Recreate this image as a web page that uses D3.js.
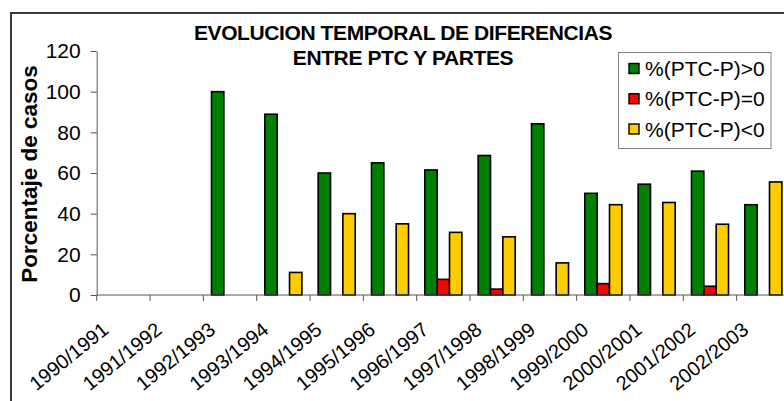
<!DOCTYPE html>
<html>
<head>
<meta charset="utf-8">
<script src="https://cdn.jsdelivr.net/npm/d3@7"></script>
<style>
  html, body { margin: 0; padding: 0; background: #fff; }
  svg { display: block; font-family: "Liberation Sans", Arial, sans-serif; }
</style>
</head>
<body>
<svg id="chart" width="784" height="401"></svg>
<script>
// ---- data ----
const categories = ["1990/1991","1991/1992","1992/1993","1993/1994","1994/1995","1995/1996","1996/1997","1997/1998","1998/1999","1999/2000","2000/2001","2001/2002","2002/2003"];
const seriesNames = ["%(PTC-P)>0", "%(PTC-P)=0", "%(PTC-P)<0"];
const greaterValues = [0, 0, 100, 88.9, 60, 65, 61.5, 68.6, 84.2, 50, 54.5, 60.9, 44.4];
const equalValues   = [0, 0, 0, 0, 0, 0, 7.7, 2.9, 0, 5.6, 0, 4.3, 0];
const lessValues    = [0, 0, 0, 11.1, 40, 35, 30.8, 28.6, 15.8, 44.4, 45.5, 34.8, 55.6];
const yTicks = [0, 20, 40, 60, 80, 100, 120];
const titleLines = ["EVOLUCION TEMPORAL DE DIFERENCIAS", "ENTRE PTC Y PARTES"];
const yTitle = "Porcentaje de casos";
const colors = ["#008000", "#FF0000", "#FFCC00"];

const seriesValues = [greaterValues, equalValues, lessValues];

const svg = d3.select("#chart");

// outer chart frame (extends past the window as in the reference)
svg.append("rect")
  .attr("x", 11).attr("y", 13)
  .attr("width", 900).attr("height", 500)
  .attr("fill", "#fff").attr("stroke", "#3a3a3a").attr("stroke-width", 2);

const plotLeft = 96.7, plotTop = 51, plotBottom = 295;
const catStep = 53.33;
const x = d3.scaleBand().domain(categories)
  .range([plotLeft, plotLeft + catStep * categories.length])
  .paddingInner(0).paddingOuter(0);
const xs = d3.scaleBand().domain(seriesNames)
  .range([0, x.bandwidth()])
  .paddingInner(0).paddingOuter(0.66);
const y = d3.scaleLinear().domain([0, 120]).range([plotBottom, plotTop]);

// bars
const barData = [];
categories.forEach((c, i) => {
  seriesNames.forEach((s, j) => {
    const v = seriesValues[j][i];
    if (v > 0) barData.push({ c, s, v, j });
  });
});
svg.append("g").selectAll("rect").data(barData).join("rect")
  .attr("x", d => x(d.c) + xs(d.s))
  .attr("y", d => y(d.v))
  .attr("width", xs.bandwidth())
  .attr("height", d => y(0) - y(d.v))
  .attr("fill", d => colors[d.j])
  .attr("stroke", "#000")
  .attr("stroke-width", 1.6);

// y axis
const yAxis = svg.append("g")
  .attr("transform", `translate(${plotLeft},0)`)
  .call(d3.axisLeft(y).tickValues(yTicks).tickSize(6).tickPadding(10).tickSizeOuter(0));
yAxis.select(".domain").attr("stroke", "#555");
yAxis.selectAll(".tick line").attr("stroke", "#555");
yAxis.selectAll(".tick text")
  .attr("font-size", 21).attr("fill", "#000")
  .attr("font-family", "'Liberation Sans', Arial, sans-serif");

// x axis
const xAxisG = svg.append("g").attr("transform", `translate(0,${plotBottom})`);
xAxisG.append("line")
  .attr("x1", x.range()[0]).attr("x2", x.range()[1])
  .attr("stroke", "#555");
const boundaries = categories.map(c => x(c)).concat([x.range()[1]]);
xAxisG.selectAll("line.tk").data(boundaries).join("line")
  .attr("class", "tk")
  .attr("x1", d => d).attr("x2", d => d)
  .attr("y1", 0).attr("y2", 6)
  .attr("stroke", "#555");
svg.append("g").selectAll("text").data(categories).join("text")
  .attr("transform", d => `translate(${x(d) + x.bandwidth() / 2 - 22.4},321) rotate(-39)`)
  .attr("text-anchor", "end")
  .attr("dy", "0.71em")
  .attr("font-size", 20)
  .text(d => d);

// y title
svg.append("text")
  .attr("transform", "translate(37,174) rotate(-90)")
  .attr("text-anchor", "middle")
  .attr("font-size", 22.5)
  .attr("font-weight", "bold")
  .text(yTitle);

// title
svg.append("g").selectAll("text").data(titleLines).join("text")
  .attr("x", 403)
  .attr("y", (d, i) => i === 0 ? 39.5 : 65)
  .attr("text-anchor", "middle")
  .attr("font-size", 21)
  .attr("font-weight", "bold")
  .attr("letter-spacing", -0.4)
  .text(d => d);

// legend
const lg = svg.append("g");
lg.append("rect")
  .attr("x", 618.5).attr("y", 52.5).attr("width", 152.5).attr("height", 96)
  .attr("fill", "#fff").attr("stroke", "#808080").attr("stroke-width", 1);
const rowY = d3.scalePoint().domain(seriesNames).range([68.5, 129]);
const items = lg.selectAll("g.item").data(seriesNames).join("g").attr("class", "item");
items.append("rect")
  .attr("x", 629).attr("y", d => rowY(d) - 5)
  .attr("width", 10).attr("height", 10)
  .attr("fill", (d, i) => colors[i])
  .attr("stroke", "#000").attr("stroke-width", 1.4);
items.append("text")
  .attr("x", 645).attr("y", d => rowY(d))
  .attr("dy", "0.36em")
  .attr("font-size", 21)
  .text(d => d);
</script>
</body>
</html>
